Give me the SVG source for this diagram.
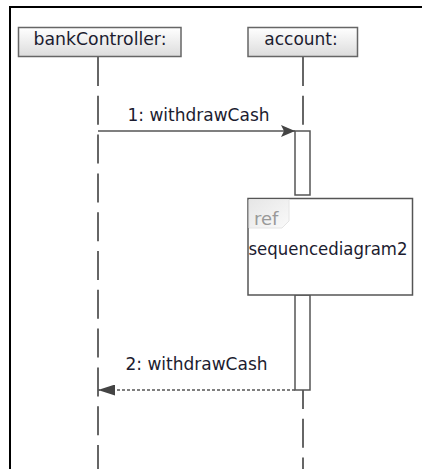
<svg xmlns="http://www.w3.org/2000/svg" width="422" height="469" viewBox="0 0 422 469">
<defs>
<linearGradient id="boxg" x1="0" y1="0" x2="0" y2="1">
<stop offset="0" stop-color="#ffffff"/>
<stop offset="1" stop-color="#dcdcdc"/>
</linearGradient>
<linearGradient id="tabg" x1="0" y1="0" x2="1" y2="1">
<stop offset="0" stop-color="#e6e6e6"/>
<stop offset="1" stop-color="#fafafa"/>
</linearGradient>
<marker id="fill" viewBox="0 0 14 12" refX="14" refY="6" markerWidth="14" markerHeight="12" markerUnits="userSpaceOnUse" orient="auto">
<path d="M0,0 L14,6 L0,12 L3,6 Z" fill="#444"/>
</marker>
<marker id="ret" viewBox="0 0 17 11" refX="17" refY="5.5" markerWidth="17" markerHeight="11" markerUnits="userSpaceOnUse" orient="auto">
<path d="M0,0 L17,5.5 L0,11 Z" fill="#444"/>
</marker>
</defs>
<style>
text{font-family:"DejaVu Sans",sans-serif;font-size:17px;fill:#1c1c30;}
.obj{fill:url(#boxg);stroke:#666;stroke-width:1.5;}
.life{stroke:#666;stroke-width:2;stroke-dasharray:29 9.8;fill:none;}
.act{fill:#fff;stroke:#555;stroke-width:1.5;}
.msg{stroke:#555;stroke-width:1.5;fill:none;}
.retl{stroke:#555;stroke-width:1.5;stroke-dasharray:3 2;fill:none;}
</style>
<rect width="422" height="469" fill="#fff"/>
<path d="M10,469 L10,7 L422,7" fill="none" stroke="#000" stroke-width="2"/>
<g id="lifelines">
<line class="life" x1="98" y1="57" x2="98" y2="469"/>
<line class="life" x1="303" y1="57" x2="303" y2="131"/>
<line class="life" x1="303" y1="390" x2="303" y2="469" stroke-dashoffset="10"/>
</g>
<g id="bankController">
<rect class="obj" x="18.5" y="27.5" width="162.5" height="29"/>
<text x="100" y="45" text-anchor="middle" textLength="133" lengthAdjust="spacingAndGlyphs">bankController:</text>
</g>
<g id="account">
<rect class="obj" x="248" y="27.5" width="109.5" height="29"/>
<text x="301" y="45" text-anchor="middle">account:</text>
</g>
<g id="activation1">
<rect class="act" x="295" y="131" width="15" height="64"/>
</g>
<g id="activation2">
<rect class="act" x="295" y="295" width="15" height="95"/>
</g>
<g id="ref">
<rect x="248" y="198.5" width="164.5" height="96.5" fill="#fff" stroke="#555" stroke-width="1.5"/>
<path d="M249,199.5 L289,199.5 L289,221 L282,228 L249,228 Z" fill="url(#tabg)" stroke="#e4e4e4" stroke-width="1"/>
<text x="254" y="225" style="fill:#999;font-size:18px">ref</text>
<text x="248.5" y="255" textLength="159" lengthAdjust="spacingAndGlyphs">sequencediagram2</text>
</g>
<g id="connectors">
<line class="msg" x1="98" y1="131" x2="295" y2="131" marker-end="url(#fill)"/>
<text x="127.5" y="121">1: withdrawCash</text>
<line class="retl" x1="295" y1="390" x2="98" y2="390" marker-end="url(#ret)"/>
<text x="125.5" y="370">2: withdrawCash</text>
</g>
</svg>
